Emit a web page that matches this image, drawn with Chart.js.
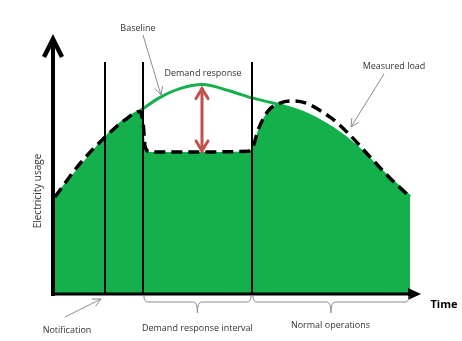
<!DOCTYPE html>
<html>
<head>
<meta charset="utf-8">
<script src="https://cdn.jsdelivr.net/npm/chart.js@4.4.1/dist/chart.umd.min.js"></script>
<style>
  html, body { margin: 0; padding: 0; background: #fff; }
  canvas { display: block; }
</style>
</head>
<body>
<canvas id="chart" width="462" height="341"></canvas>
<script>
// baseline (expected load without the event)
const baselineTime  = [0.5, 7.4, 14.2, 18.3, 24.3, 29.2, 34.6, 40.6, 48.2, 54.2, 61.0, 69.2, 76.3, 82.8, 89.1, 97.3];
const baselineUsage = [37.9, 49.2, 60.8, 66.5, 72.2, 76.8, 80.2, 81.8, 79.3, 76.6, 74.2, 70.3, 64.6, 57.5, 48.6, 37.9];

// measured load (dashed)
const measuredTime  = [0.5, 7.4, 14.2, 19.6, 23.7, 24.6, 25.1, 26.5, 40.1, 53.1, 54.5, 55.9, 58.6, 61.9, 65.9, 75.5, 80.9, 86.4, 91.8, 97.3];
const measuredUsage = [37.9, 51.0, 61.3, 68.0, 71.3, 66.0, 57.5, 55.5, 55.5, 55.8, 57.5, 64.1, 71.5, 74.6, 75.4, 69.1, 62.1, 53.5, 45.3, 37.9];

// notification, start and end of the demand response interval
const eventTimes = [14.2, 24.5, 54.2];
const eventTop = 90.6;
const endTime = 97.3;

const green = '#13b04c';
const labelFont = '9px "Open Sans", "Noto Sans", sans-serif';
const labelColor = '#333';

function toPoints(xs, ys) {
  return xs.map((x, i) => ({ x: x, y: ys[i] }));
}

function arrowHead(ctx, x1, y1, x2, y2, len, half) {
  const a = Math.atan2(y2 - y1, x2 - x1);
  ctx.beginPath();
  ctx.moveTo(x2 - len * Math.cos(a) + half * Math.sin(a), y2 - len * Math.sin(a) - half * Math.cos(a));
  ctx.lineTo(x2, y2);
  ctx.lineTo(x2 - len * Math.cos(a) - half * Math.sin(a), y2 - len * Math.sin(a) + half * Math.cos(a));
  ctx.stroke();
}

function grayArrow(ctx, x1, y1, x2, y2) {
  ctx.save();
  ctx.strokeStyle = '#8c8c8c';
  ctx.lineWidth = 1;
  ctx.beginPath();
  ctx.moveTo(x1, y1);
  ctx.lineTo(x2, y2);
  ctx.stroke();
  arrowHead(ctx, x1, y1, x2, y2, 8, 4);
  ctx.restore();
}

function brace(ctx, x1, x2, top, mid, tip) {
  const c = (x1 + x2) / 2;
  const r = 4;
  ctx.save();
  ctx.strokeStyle = '#8c8c8c';
  ctx.lineWidth = 1;
  ctx.beginPath();
  ctx.moveTo(x1, top);
  ctx.quadraticCurveTo(x1, mid, x1 + r, mid);
  ctx.lineTo(c - r, mid);
  ctx.quadraticCurveTo(c, mid, c, tip);
  ctx.quadraticCurveTo(c, mid, c + r, mid);
  ctx.lineTo(x2 - r, mid);
  ctx.quadraticCurveTo(x2, mid, x2, top);
  ctx.stroke();
  ctx.restore();
}

function text(ctx, s, x, y, font) {
  ctx.font = font || labelFont;
  ctx.fillText(s, x, y);
}

const sketch = {
  id: 'sketch',
  afterDatasetsDraw(chart) {
    const ctx = chart.ctx;
    const xs = chart.scales.x, ys = chart.scales.y;
    const area = chart.chartArea;
    const y0 = ys.getPixelForValue(0);

    ctx.save();

    // event markers
    ctx.strokeStyle = '#000';
    ctx.lineWidth = 2;
    eventTimes.forEach(t => {
      const px = Math.round(xs.getPixelForValue(t));
      ctx.beginPath();
      ctx.moveTo(px, ys.getPixelForValue(eventTop));
      ctx.lineTo(px, y0);
      ctx.stroke();
    });

    // demand response arrow between baseline peak and measured load
    const peak = Math.max(...baselineUsage);
    const peakT = baselineTime[baselineUsage.indexOf(peak)];
    const ax = xs.getPixelForValue(peakT);
    const aTop = ys.getPixelForValue(peak) + 4;
    const aBot = ys.getPixelForValue(measuredUsage[8]) - 1;
    ctx.strokeStyle = '#c0504d';
    ctx.lineWidth = 3;
    ctx.lineCap = 'round';
    ctx.beginPath();
    ctx.moveTo(ax, aTop);
    ctx.lineTo(ax, aBot);
    ctx.stroke();
    arrowHead(ctx, ax, aBot, ax, aTop, 10, 6);
    arrowHead(ctx, ax, aTop, ax, aBot, 10, 6);
    ctx.lineCap = 'butt';

    // axes
    ctx.strokeStyle = '#000';
    ctx.fillStyle = '#000';
    ctx.lineWidth = 4;
    ctx.beginPath();
    ctx.moveTo(area.left, y0 + 2);
    ctx.lineTo(area.left, area.top + 2);
    ctx.stroke();
    ctx.lineWidth = 4.5;
    arrowHead(ctx, area.left, area.top + 20, area.left, area.top + 1, 18, 9);
    ctx.lineWidth = 3;
    ctx.beginPath();
    ctx.moveTo(area.left - 2, y0);
    ctx.lineTo(area.right - 10, y0);
    ctx.stroke();
    ctx.beginPath();
    ctx.moveTo(area.right - 12, y0 - 6);
    ctx.lineTo(area.right + 1, y0);
    ctx.lineTo(area.right - 12, y0 + 6);
    ctx.closePath();
    ctx.fill();

    // braces under the time axis
    const e1 = xs.getPixelForValue(eventTimes[1]);
    const e2 = xs.getPixelForValue(eventTimes[2]);
    const e3 = xs.getPixelForValue(endTime) - 1;
    brace(ctx, e1 + 1, e2 - 1, y0 + 2, y0 + 8, y0 + 19);
    brace(ctx, e2 + 1, e3, y0 + 2, y0 + 8, y0 + 19);

    // labels
    ctx.fillStyle = labelColor;
    ctx.textAlign = 'center';
    ctx.textBaseline = 'middle';
    text(ctx, 'Baseline', 138, 28);
    text(ctx, 'Demand response', 203, 73);
    text(ctx, 'Measured load', 394, 66);
    text(ctx, 'Notification', 67, 330);
    text(ctx, 'Demand response interval', (e1 + e2) / 2, 328);
    text(ctx, 'Normal operations', (e2 + e3) / 2, 325);
    ctx.fillStyle = '#000';
    text(ctx, 'Time', 444, 305, 'bold 11px "Open Sans", "Noto Sans", sans-serif');

    ctx.save();
    ctx.translate(38, 191);
    ctx.rotate(-Math.PI / 2);
    ctx.fillStyle = labelColor;
    text(ctx, 'Electricity usage', 0, 0, '10px "Open Sans", "Noto Sans", sans-serif');
    ctx.restore();

    grayArrow(ctx, 143, 35, 161, 95);
    grayArrow(ctx, 384, 74, 351, 127);
    grayArrow(ctx, 65, 317, 101, 299);

    ctx.restore();
  }
};

new Chart(document.getElementById('chart'), {
  type: 'line',
  data: {
    datasets: [
      {
        label: 'Baseline',
        data: toPoints(baselineTime, baselineUsage),
        borderColor: green,
        backgroundColor: green,
        borderWidth: 3,
        cubicInterpolationMode: 'monotone',
        fill: 'origin',
        pointRadius: 0,
        order: 2
      },
      {
        label: 'Measured load',
        data: toPoints(measuredTime, measuredUsage),
        borderColor: '#000',
        borderWidth: 3.5,
        borderDash: [11, 6],
        cubicInterpolationMode: 'monotone',
        fill: { target: 0, above: 'rgba(0,0,0,0)', below: '#ffffff' },
        pointRadius: 0,
        order: 1
      }
    ]
  },
  options: {
    responsive: false,
    animation: false,
    layout: { padding: { left: 53, right: 42, top: 38, bottom: 47 } },
    scales: {
      x: { type: 'linear', min: 0, max: 100, display: false },
      y: { min: 0, max: 100, display: false }
    },
    plugins: {
      legend: { display: false },
      tooltip: { enabled: false },
      filler: { drawTime: 'beforeDatasetsDraw' }
    }
  },
  plugins: [sketch]
});
</script>
</body>
</html>
